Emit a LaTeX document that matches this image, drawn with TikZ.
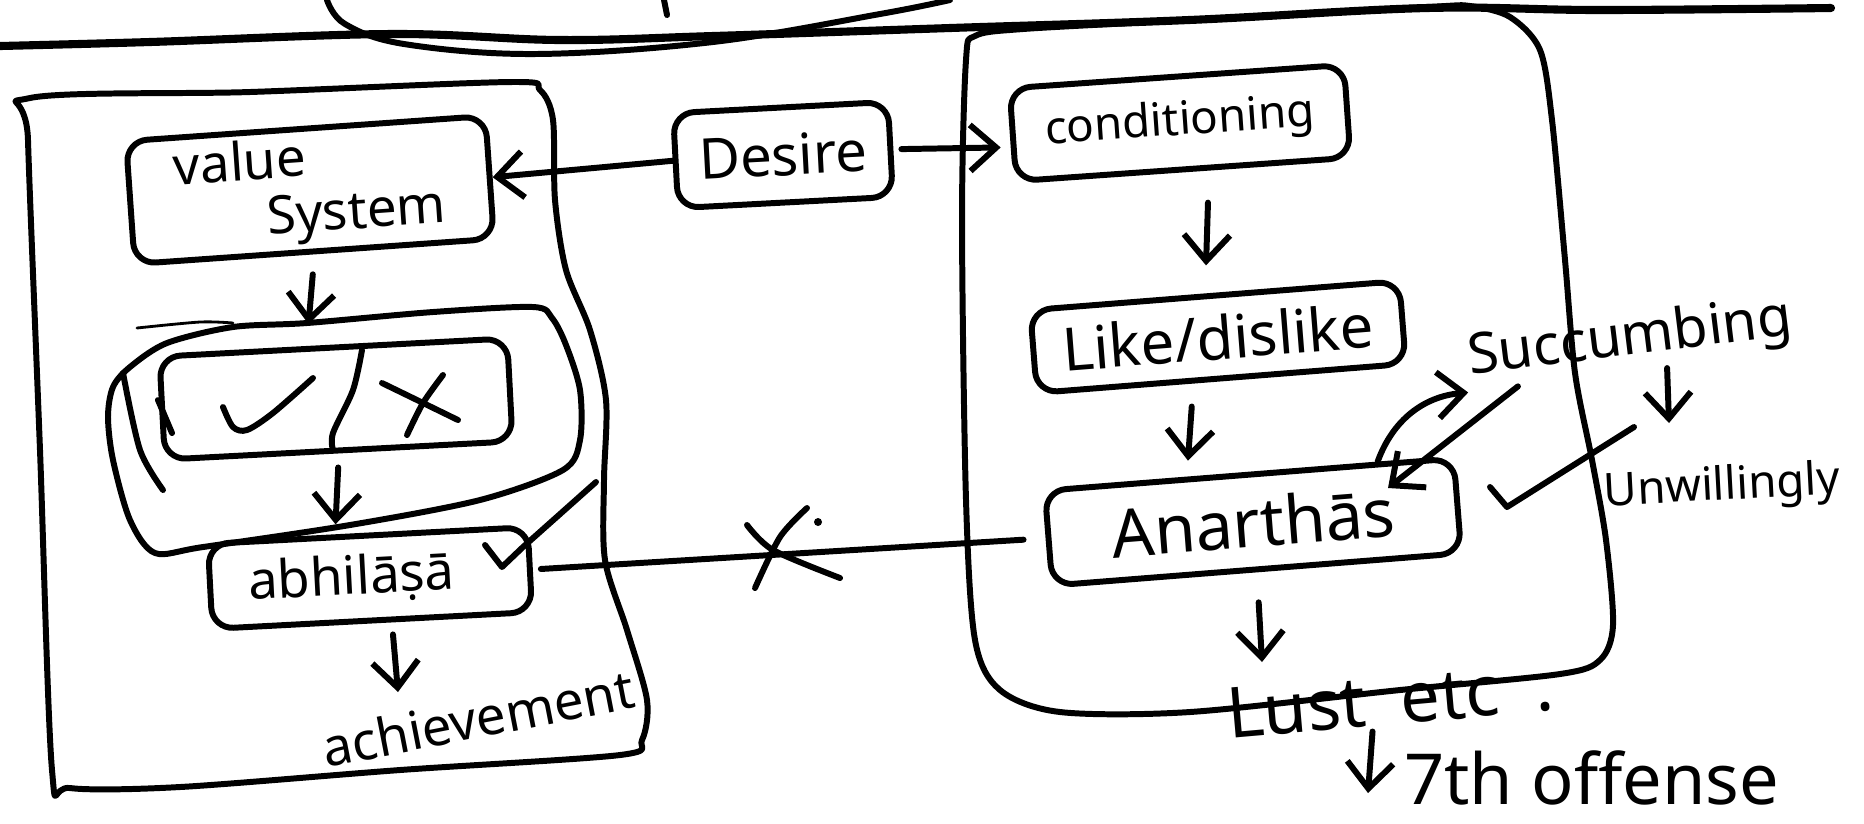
\documentclass[tikz,border=0pt]{standalone}
\usepackage{fontspec}
\setmainfont{Noto Sans}
\usetikzlibrary{arrows.meta,calc}
\tikzset{
  ink/.style={line width=1.7pt, line cap=round, line join=round},
  box/.style={ink, draw, rounded corners=6pt, inner sep=2pt, align=center},
  lbl/.style={inner sep=1pt},
  arr/.style={ink, -{Straight Barb[length=2.6mm,width=4.6mm]}},
}
\begin{document}
\begin{tikzpicture}[x=0.01cm,y=-0.01cm]
\fill[white] (0,0) rectangle (1864,823);
\useasboundingbox (0,0) rectangle (1864,823);

% rule across the top and the loop hanging from the edge
\draw[ink, line width=2.3pt] plot[smooth, tension=0.6] coordinates {(0,46) (150,42) (392,34) (560,40) (713,36) (950,28) (1189,20) (1427,8) (1600,10) (1831,8)};
\draw[ink] plot[smooth, tension=0.6] coordinates {(327,0) (345,24) (404,44) (535,54) (713,42) (880,14) (950,0)};
\draw[ink] (664,0) -- (667,15);

% left container
\draw[ink] plot[smooth cycle, tension=0.5] coordinates {(28,140) (30,98) (250,92) (511,82) (540,90) (553,120) (555,200) (566,270) (590,330) (606,400) (604,480) (605,560) (627,630) (647,700) (642,740) (620,755) (400,770) (180,787) (70,788) (52,770) (40,450)};

% right container
\draw[ink] plot[smooth cycle, tension=0.5] coordinates {(962,220) (966,60) (975,36) (1023,29) (1189,20) (1427,7) (1470,6) (1510,17) (1540,50) (1552,120) (1565,260) (1575,373) (1592,460) (1606,540) (1613,625) (1600,660) (1560,674) (1400,690) (1190,712) (1060,712) (1000,690) (975,640) (966,500)};

% loop round the judgement box
\draw[ink] plot[smooth cycle, tension=0.5] coordinates {(155,553) (130,520) (113,460) (108,417) (113,387) (130,367) (167,343) (233,327) (307,323) (433,312) (533,307) (552,318) (566,345) (580,390) (580,440) (563,470) (480,500) (350,525) (203,547)};
\draw[line width=0.8pt, line cap=round] plot[smooth] coordinates {(137,328) (200,322) (233,323)};
\draw[ink] plot[smooth] coordinates {(123,373) (140,450) (163,490)};
\draw[ink] (158,400) -- (172,433);

% boxes
\node[box, rotate=4, minimum width=3.6cm, minimum height=1.15cm, align=left,
      font=\fontsize{15}{16}\selectfont] (value) at (310,190) {value\\\hspace*{1.7em}System};
\node[box, rotate=3, minimum width=2.15cm, minimum height=0.95cm,
      font=\fontsize{16}{18}\selectfont] (desire) at (783,155) {Desire};
\node[box, rotate=4, minimum width=3.35cm, minimum height=0.93cm,
      font=\fontsize{13}{15}\selectfont] (cond) at (1180,123) {conditioning};
\node[box, rotate=4.5, minimum width=3.7cm, minimum height=0.83cm,
      font=\fontsize{17}{19}\selectfont] (like) at (1218,337) {Like/dislike};
\node[box, rotate=4.5, minimum width=4.1cm, minimum height=0.95cm,
      font=\fontsize{19}{21}\selectfont] (anar) at (1253,522) {Anarthās};
\node[box, rotate=3, minimum width=3.48cm, minimum height=1.03cm] (vx) at (336,399) {};
\node[box, rotate=3, minimum width=3.2cm, minimum height=0.85cm,
      font=\fontsize{15}{18}\selectfont] (abh) at (370,578) {abhilāṣā\hspace*{0.7em}};

% tick, divider and cross inside the judgement box
\draw[ink] plot[smooth] coordinates {(223,407) (233,427) (247,430) (273,413) (313,378)};
\draw[ink] plot[smooth] coordinates {(362,350) (353,390) (333,433) (333,450)};
\draw[ink] plot[smooth] coordinates {(382,383) (417,400) (458,420)};
\draw[ink] plot[smooth] coordinates {(443,375) (423,403) (407,435)};

% free labels
\node[lbl, rotate=11, font=\fontsize{15}{17}\selectfont] (ach) at (478,718) {achievement};
\node[lbl, rotate=7, font=\fontsize{16}{18}\selectfont] (succ) at (1630,340) {Succumbing};
\node[lbl, rotate=3, font=\fontsize{13}{15}\selectfont] (unw) at (1722,488) {Unwillingly};
\node[lbl, rotate=5, font=\fontsize{20}{22}\selectfont] (lust) at (1390,700) {Lust\hspace{0.5em}etc\hspace{0.5em}.};
\node[lbl, anchor=west, font=\fontsize{20}{22}\selectfont] (off) at (1400,778) {7th offense};

% free arrow ends
\coordinate (achtop) at (398,692);
\coordinate (lusttop) at (1262,662);
\coordinate (offtip) at (1368,793);
\coordinate (anarin) at (1388,488);
\coordinate (unwtop) at (1669,423);

% connectors
\draw[arr] (desire.west) -- (value.east);
\draw[arr, shorten <=0.08cm, shorten >=0.1cm] (desire.east) -- ($(cond.west)!.25!(cond.south west)$);
\draw[arr, shorten <=0.32cm, shorten >=0.28cm] ($(cond.south)!.15!(cond.south east)$) -- ($(like.north)!.05!(like.north west)$);
\draw[arr, shorten <=0.23cm, shorten >=0.16cm] ($(like.south)!.15!(like.south west)$) -- ($(anar.north)!.3!(anar.north west)$);
\draw[arr, shorten <=0.2cm, shorten >=0.22cm] (value.south) -- ($(vx.north)!.15!(vx.north west)$);
\draw[arr, shorten <=0.14cm, shorten >=0.1cm] (vx.south) -- ($(abh.north)!.2!(abh.north west)$);
\draw[arr, shorten <=0.12cm] ($(abh.south)!.12!(abh.south east)$) -- (achtop);
\draw[arr, shorten <=0.3cm] (anar.south) -- (lusttop);
\draw[arr] ($(lust.south)!.12!(lust.south west)$) -- (offtip);
\draw[arr] ($(anar.north east)!.19!(anar.north west)$) to[out=70,in=185] (succ.south west);
\draw[arr] ($(succ.south west)!.15!(succ.south east)$) -- (anarin);
\draw[arr] ($(succ.south)!.2!(succ.south east)$) -- (unwtop);

% crossed-out link between abhilasa and the anarthas
\draw[ink, shorten <=0.08cm, shorten >=0.22cm] (abh.east) -- (anar.west);
\draw[ink] plot[smooth] coordinates {(747,525) (773,550) (840,578)};
\draw[ink] plot[smooth] coordinates {(807,508) (780,537) (755,588)};
\fill (818,522) circle (4);

% ticks
\draw[ink] (485,545) -- (502,567) -- (523,547) -- (596,482);
\draw[ink] (1490,487) -- (1507,507) -- (1634,427);
\end{tikzpicture}
\end{document}
